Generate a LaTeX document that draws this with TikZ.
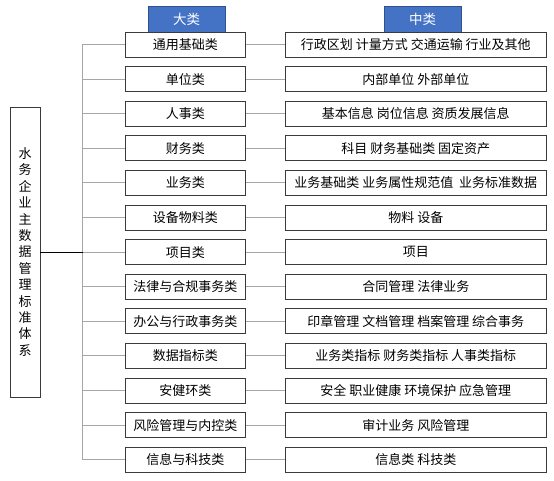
\documentclass[tikz,border=0pt]{standalone}
\usepackage{fontspec}
\setmainfont{Noto Sans CJK SC}
\usepackage{tikz}
\usetikzlibrary{positioning, calc}
\definecolor{hdBlue}{HTML}{4472C4}
\definecolor{hdEdge}{HTML}{2F528F}
\definecolor{boxEdge}{HTML}{3A3A3A}
\definecolor{linkGray}{HTML}{A6A6A6}
\tikzset{
  catnode/.style={
    draw=boxEdge, line width=0.9pt, minimum height=25pt, inner sep=0pt,
    font=\fontsize{13}{15}\selectfont, align=center, fill=white
  },
  dalei/.style={catnode, minimum width=120.7pt},
  zhonglei/.style={catnode, minimum width=261.7pt},
  header/.style={
    draw=hdEdge, fill=hdBlue, text=white, minimum height=26pt, minimum width=77pt,
    inner sep=0pt, font=\fontsize{13.5}{15}\selectfont
  },
  rootbox/.style={
    draw=boxEdge, line width=0.9pt, minimum width=30pt, minimum height=290pt,
    inner sep=0pt, text width=14pt, align=center,
    font=\fontsize{13}{16.4}\selectfont
  },
  branch/.style={linkGray, line width=0.9pt},
  stem/.style={black, line width=0.9pt}
}

\begin{document}
\begin{tikzpicture}[x=1pt, y=-1pt]
  \useasboundingbox (0,0) rectangle (554,481);
  % headers
  \node[header] (hdA) at (186.5,19) {大类};
  \node[header] (hdB) at (422.5,19) {中类};
  % root
  \node[rootbox] (root) at (25,252) {水\\务\\企\\业\\主\\数\\据\\管\\理\\标\\准\\体\\系};
  % rows
  \foreach \i/\ca/\zh in {
    1/通用基础类/行政区划 计量方式 交通运输 行业及其他,
    2/单位类/内部单位 外部单位,
    3/人事类/基本信息 岗位信息 资质发展信息,
    4/财务类/科目 财务基础类 固定资产,
    5/业务类/业务基础类 业务属性规范值\ \ 业务标准数据,
    6/设备物料类/物料 设备,
    7/项目类/项目,
    8/法律与合规事务类/合同管理 法律业务,
    9/办公与行政事务类/印章管理 文档管理 档案管理 综合事务,
    10/数据指标类/业务类指标 财务类指标 人事类指标,
    11/安健环类/安全 职业健康 环境保护 应急管理,
    12/风险管理与内控类/审计业务 风险管理,
    13/信息与科技类/信息类 科技类}{
    \node[dalei] (c\i) at (185.3,{44.5+(\i-1)*34.6}) {\ca};
    \node[zhonglei] (s\i) at (415.8,{44.5+(\i-1)*34.6}) {\zh};
    \coordinate (t\i) at (82.7,{44.5+(\i-1)*34.6});
    \draw[branch] (t\i) -- (c\i.west);
    \draw[branch] (c\i.east) -- (s\i.west);
  }
  \draw[branch] (t1) -- (t13);
  \draw[stem] (root.east) -- (t1 |- root.east);
\end{tikzpicture}
\end{document}
